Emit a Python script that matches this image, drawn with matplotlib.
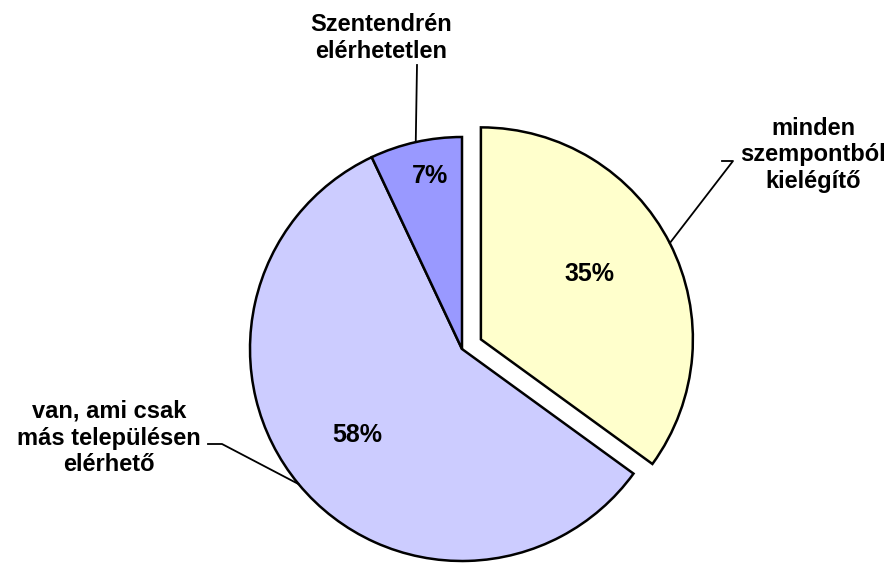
import numpy as np
import matplotlib.pyplot as plt

# adatok
categories = ['minden\nszempontból\nkielégítő',
              'van, ami csak\nmás településen\nelérhető',
              'Szentendrén\nelérhetetlen']
values = [35, 58, 7]
colors = ['#FFFFCC', '#CCCCFF', '#9999FF']
explode = [0.1, 0, 0]

plt.rcParams['font.family'] = ['Liberation Sans', 'DejaVu Sans']

W, H = 893, 563
R = 212.0            # pie radius in px
cx, cy = 462, 349    # pie centre in px (from top-left)

fig = plt.figure(figsize=(W / 100, H / 100), dpi=100)
ax = fig.add_axes([0, 0, 1, 1])

wedges, texts, autotexts = ax.pie(
    values, explode=explode, colors=colors, startangle=90,
    counterclock=False, radius=1, center=(0, 0),
    autopct='%d%%', pctdistance=0.6,
    wedgeprops=dict(edgecolor='black', linewidth=1.8),
    textprops=dict(fontsize=18, fontweight='bold', color='black'))

# pie() átállítja a tengelyeket, ezért utána
ax.set_xlim(-cx / R, (W - cx) / R)
ax.set_ylim((cy - H) / R, cy / R)
ax.set_aspect('equal')
ax.axis('off')

# százalékok helye: távolság és szögeltolás a szelet közepéhez képest
pct_dist = [0.6, 0.64, 0.83]
pct_shift = [4, 0, -2]
for w, t, d, s in zip(wedges, autotexts, pct_dist, pct_shift):
    ang = np.deg2rad((w.theta1 + w.theta2) / 2 + s)
    ox, oy = w.center
    t.set_position((ox + d * np.cos(ang), oy + d * np.sin(ang)))

# címkék helye (px) és vonal könyöke
label_pos = [(813, 155), (109, 438), (381, 38)]
elbow = [(733, 161), (222, 444), (417, 65)]
tail = [722, 208, None]

for w, lab, (tx, ty), (ex, ey), tl in zip(wedges, categories, label_pos, elbow, tail):
    ang = np.deg2rad((w.theta1 + w.theta2) / 2)
    ox, oy = w.center
    px, py = ox + np.cos(ang), oy + np.sin(ang)
    exd, eyd = (ex - cx) / R, (cy - ey) / R
    pts_x = [px, exd]
    pts_y = [py, eyd]
    if tl is not None:
        pts_x.append((tl - cx) / R)
        pts_y.append(eyd)
    ax.plot(pts_x, pts_y, color='black', linewidth=1.3)
    ax.text((tx - cx) / R, (cy - ty) / R, lab, ha='center', va='center',
            fontsize=17, fontweight='bold', linespacing=1.2)

fig.savefig('out.png', dpi=100, facecolor='white')
